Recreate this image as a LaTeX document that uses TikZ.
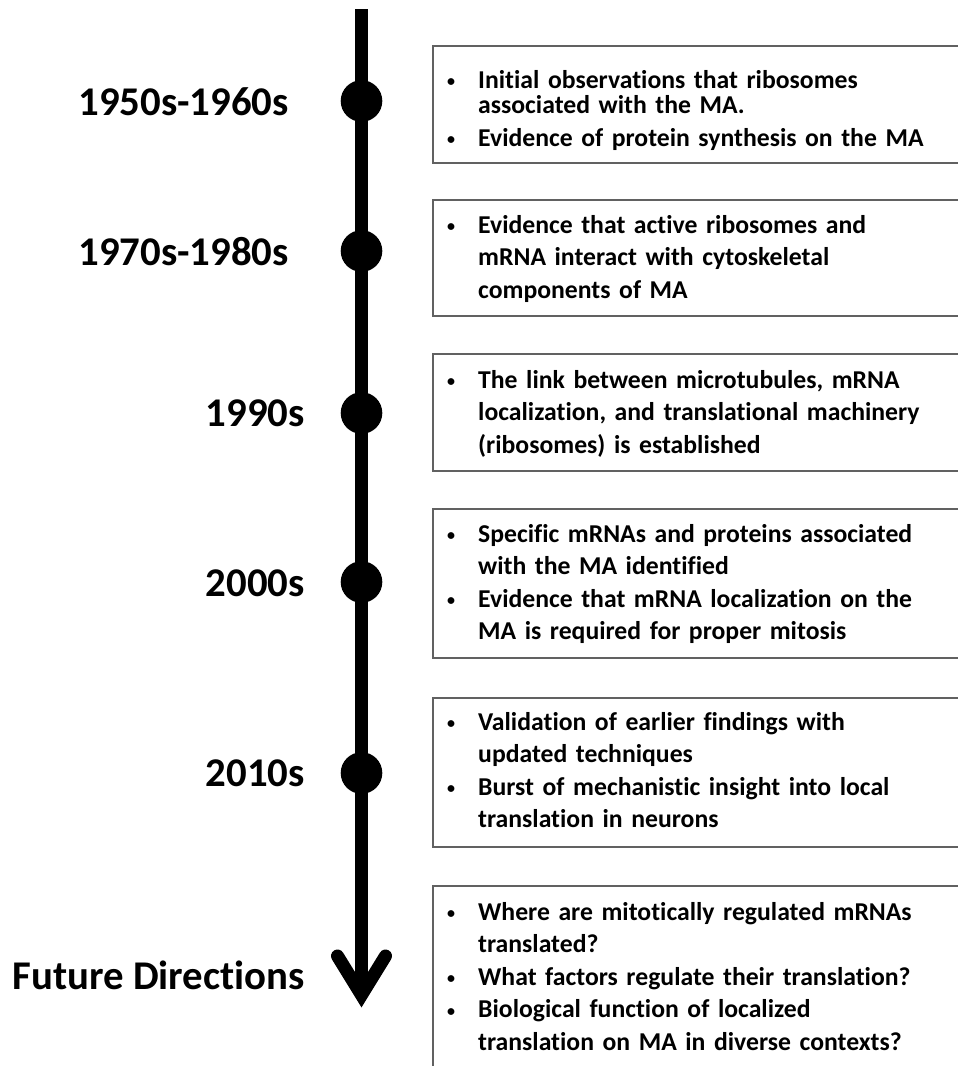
\documentclass[tikz,border=0pt]{standalone}
\usepackage{fontspec}
\setmainfont{Carlito}[Ligatures=NoCommon]
\newcommand\bul{\makebox[34pt][l]{\hspace*{3pt}{\fontsize{16}{16}\selectfont\raisebox{1.7pt}{•}}}}
\newcommand\cont{\hspace*{34pt}}
\newcommand\fl{\rule{0pt}{24pt}}
\begin{document}
\begin{tikzpicture}[x=1pt,y=-1pt,
  yearlabel/.style={font=\fontsize{40.8}{48}\selectfont\bfseries, anchor=base east, inner sep=0pt},
  dot/.style={circle, fill=black, minimum size=41.6pt, inner sep=0pt},
  boxframe/.style={draw=black!62, line width=1.6pt, anchor=north west, minimum width=560pt, inner sep=0pt},
  boxtext/.style={font=\fontsize{25.7}{32.5}\selectfont\bfseries, anchor=north west, inner sep=0pt, align=left, text width=505pt},
  shaft/.style={line width=13pt, black},
  head/.style={line width=13pt, black, line cap=round, line join=miter}
]
\useasboundingbox (0,0) rectangle (958,1066);

% boxes (right side runs off the picture)
\begin{scope}
\clip (0,0) rectangle (958,1066);
\node[boxframe, minimum height=117pt] (b1) at (432,45) {};
\node[boxframe, minimum height=116pt] (b2) at (432,199) {};
\node[boxframe, minimum height=117pt] (b3) at (432,353) {};
\node[boxframe, minimum height=149pt] (b4) at (432,508) {};
\node[boxframe, minimum height=149pt] (b5) at (432,697) {};
\node[boxframe, minimum height=200pt] (b6) at (432,885) {};
\end{scope}

% box texts (anchor: first baseline minus 24pt)
\node[boxtext] (t1) at (444,64) {\fl\bul Initial observations that ribosomes\\[-7pt]
\cont associated with the MA.\\
\bul Evidence of protein synthesis on the MA};
\node[boxtext] (t2) at (444,209) {\fl\bul Evidence that active ribosomes and\\
\cont mRNA interact with cytoskeletal\\
\cont components of MA};
\node[boxtext] (t3) at (444,364) {\fl\bul The link between microtubules, mRNA\\
\cont localization, and translational machinery\\
\cont (ribosomes) is established};
\node[boxtext] (t4) at (444,518) {\fl\bul Specific mRNAs and proteins associated\\
\cont with the MA identified\\
\bul Evidence that mRNA localization on the\\
\cont MA is required for proper mitosis};
\node[boxtext] (t5) at (444,706) {\fl\bul Validation of earlier findings with\\
\cont updated techniques\\
\bul Burst of mechanistic insight into local\\
\cont translation in neurons};
\node[boxtext] (t6) at (444,896) {\fl\bul Where are mitotically regulated mRNAs\\
\cont translated?\\
\bul What factors regulate their translation?\\
\bul Biological function of localized\\
\cont translation on MA in diverse contexts?};

% timeline
\coordinate (top) at (361.5,9);
\coordinate (tip) at (361.5,995);
\coordinate (armL) at (337.5,956);
\coordinate (armR) at (385.5,956);
\draw[shaft] (top) -- (tip);
\draw[head] (armL) -- (tip) -- (armR);

\node[dot] (d1) at (361.5,101) {};
\node[dot] (d2) at (361.5,251) {};
\node[dot] (d3) at (361.5,413) {};
\node[dot] (d4) at (361.5,582) {};
\node[dot] (d5) at (361.5,773) {};

% labels
\node[yearlabel] (l1) at (289,115) {1950s-1960s};
\node[yearlabel] (l2) at (289,265) {1970s-1980s};
\node[yearlabel] (l3) at (305,426) {1990s};
\node[yearlabel] (l4) at (305,596) {2000s};
\node[yearlabel] (l5) at (305,786) {2010s};
\node[yearlabel] (l6) at (305,989) {Future Directions};
\end{tikzpicture}
\end{document}
